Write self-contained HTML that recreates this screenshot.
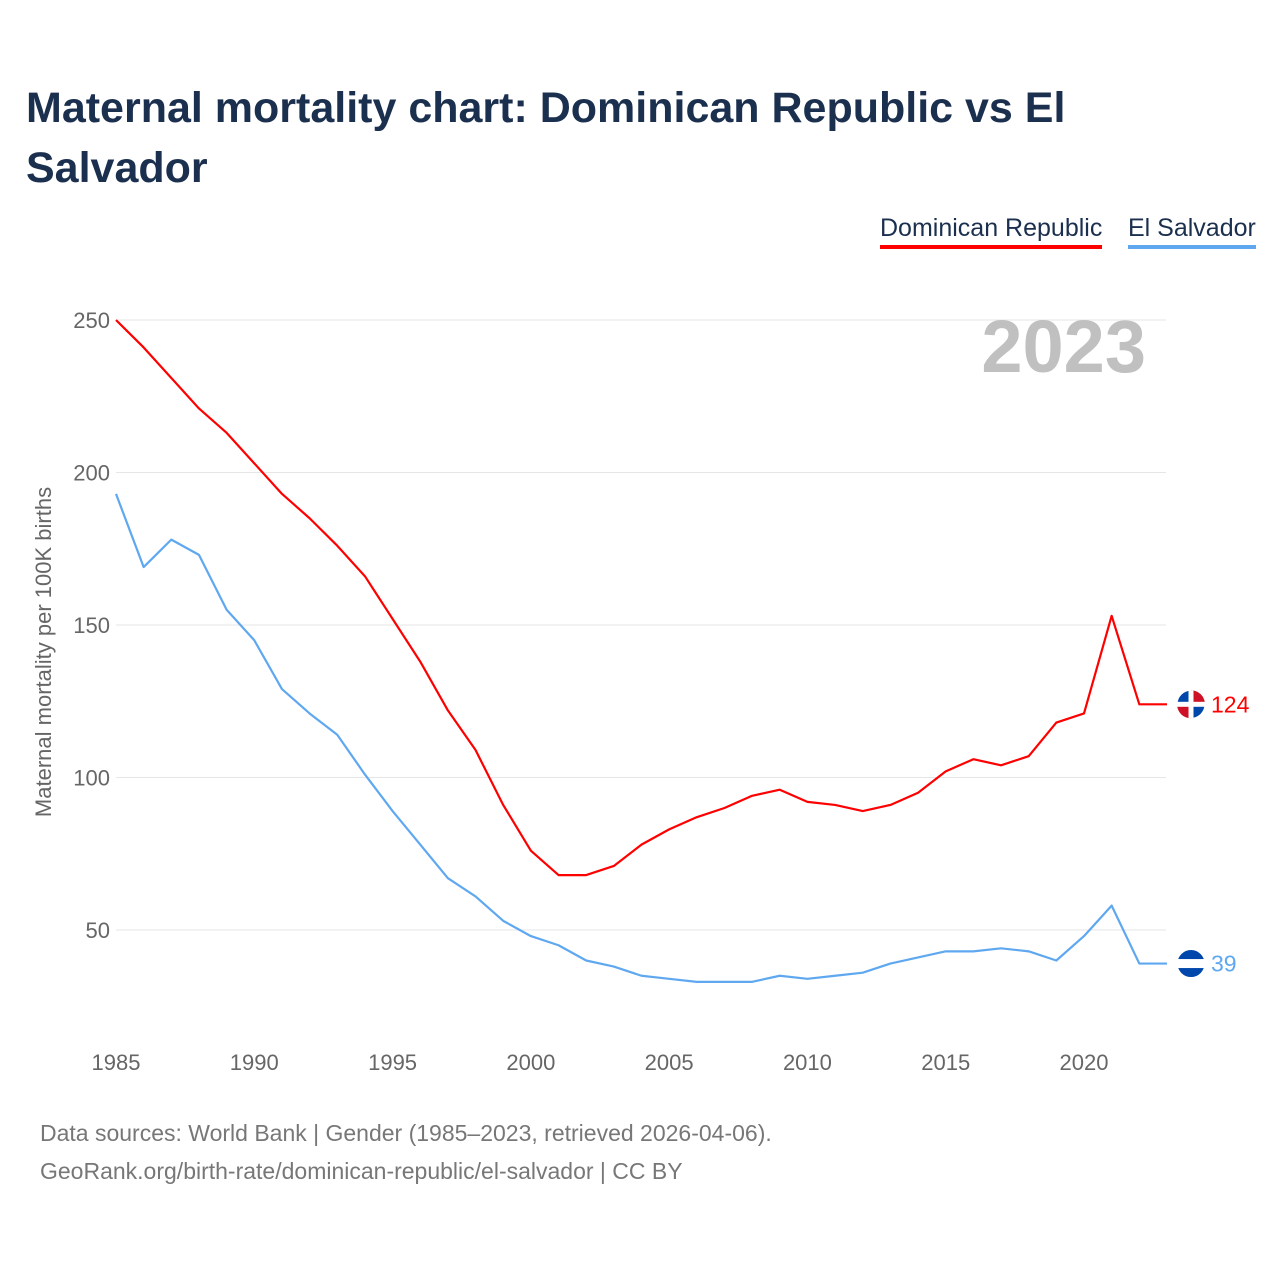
<!DOCTYPE html>
<html><head><meta charset="utf-8">
<style>
body{margin:0;background:#fff;font-family:"Liberation Sans",sans-serif;}
#wrap{position:relative;width:1280px;height:1280px;overflow:hidden;}
h1{position:absolute;left:26px;top:78px;margin:0;font-size:43px;line-height:60px;color:#1b2f4e;font-weight:bold;width:1200px;}
.leg{position:absolute;top:214px;font-size:25px;color:#1b2f4e;padding-bottom:2px;}
.src{position:absolute;left:40px;font-size:23px;color:#777;}
</style></head><body>
<div id="wrap">
<h1>Maternal mortality chart: Dominican Republic vs El Salvador</h1>
<div class="leg" style="left:880px;border-bottom:4px solid #f00">Dominican Republic</div>
<div class="leg" style="left:1128px;border-bottom:4px solid #5fa8f0">El Salvador</div>
<svg id="chart" width="1280" height="1280" style="position:absolute;left:0;top:0"></svg>
<div class="src" style="top:1120px">Data sources: World Bank | Gender (1985–2023, retrieved 2026-04-06).</div>
<div class="src" style="top:1158px">GeoRank.org/birth-rate/dominican-republic/el-salvador | CC BY</div>
</div>
<script>
const years=[1985,1986,1987,1988,1989,1990,1991,1992,1993,1994,1995,1996,1997,1998,1999,2000,2001,2002,2003,2004,2005,2006,2007,2008,2009,2010,2011,2012,2013,2014,2015,2016,2017,2018,2019,2020,2021,2022,2023];
const domRep=[250,241,231,221,213,203,193,185,176,166,152,138,122,109,91,76,68,68,71,78,83,87,90,94,96,92,91,89,91,95,102,106,104,107,118,121,153,124,124];
const elSal=[193,169,178,173,155,145,129,121,114,101,89,78,67,61,53,48,45,40,38,35,34,33,33,33,35,34,35,36,39,41,43,43,44,43,40,48,58,39,39];
const yTicks=[50,100,150,200,250];
const xTicks=[1985,1990,1995,2000,2005,2010,2015,2020];
const NS="http://www.w3.org/2000/svg";
const svg=document.getElementById('chart');
const x=v=>116+(v-1985)*(1084-116)/35;
const y=v=>1082.5-v*3.05;
function mk(t,a){const e=document.createElementNS(NS,t);for(const k in a)e.setAttribute(k,a[k]);svg.appendChild(e);return e;}
yTicks.forEach(t=>{
 const l=mk('line',{x1:116,x2:1166,y1:y(t),y2:y(t),stroke:'#e6e6e6','stroke-width':1});
 
 
 const tx=mk('text',{x:110,y:y(t)+8,'text-anchor':'end','font-size':22,fill:'#666','font-family':'Liberation Sans, sans-serif'});
 tx.textContent=t;
 
 
});
xTicks.forEach(t=>{
 const tx=mk('text',{x:x(t),y:1070,'text-anchor':'middle','font-size':22,fill:'#666','font-family':'Liberation Sans, sans-serif'});
 tx.textContent=t;
 
 
});
const yt=mk('text',{x:0,y:0,transform:'translate(51,652) rotate(-90)','text-anchor':'middle','font-size':22,fill:'#666','font-family':'Liberation Sans, sans-serif'});
yt.textContent='Maternal mortality per 100K births';


const yr=mk('text',{x:1146,y:372,'text-anchor':'end','font-size':74,'font-weight':'bold',fill:'#c0c0c0','font-family':'Liberation Sans, sans-serif'});
yr.textContent='2023';


function series(vals,color,name){
 const p=mk('polyline',{points:vals.map((v,i)=>x(years[i])+','+y(v)).join(' '),fill:'none',stroke:color,'stroke-width':2.2,'stroke-linejoin':'round'});
 
 
 const last=vals[vals.length-1];
 const cy=y(last);
 const c=mk('circle',{cx:1191,cy:cy,r:14,fill:'#0047ab',stroke:'#fff','stroke-width':1});
 
 
 if(name==='dominican-republic'){
  const q1=mk('path',{d:`M1191 ${cy} L1205 ${cy} A14 14 0 0 0 1191 ${cy-14} Z`,fill:'#ce1126'});
  
  
  const q2=mk('path',{d:`M1191 ${cy} L1177 ${cy} A14 14 0 0 0 1191 ${cy+14} Z`,fill:'#ce1126'});
  
  
  const v=mk('rect',{x:1188.5,y:cy-14,width:5,height:28,fill:'#fff'});
  
  
 }
 const w=mk('rect',{x:1177,y:cy-(name==='el-salvador'?4.5:2.5),width:28,height:name==='el-salvador'?9:5,fill:'#fff'});
 
 
 const t=mk('text',{x:1211,y:cy+8,'font-size':23,fill:color,'font-family':'Liberation Sans, sans-serif'});
 t.textContent=last;
 
 
}
series(domRep,'#f00','dominican-republic');
series(elSal,'#5fa8f0','el-salvador');
</script>
</body></html>
